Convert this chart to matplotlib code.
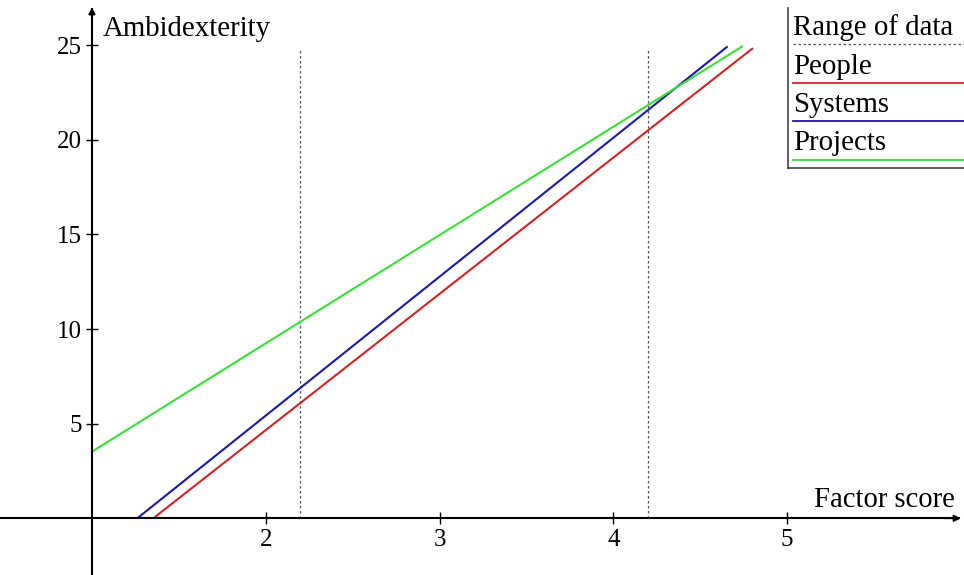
import matplotlib
matplotlib.use('Agg')
import matplotlib.pyplot as plt
from matplotlib.lines import Line2D

plt.rcParams['font.family'] = ['Liberation Serif', 'DejaVu Serif']

# data (line end points)
series_names = ['People', 'Systems', 'Projects']
series_colors = ['#d02424', '#1a1aa6', '#3ade3a']
series_x = [[1.353, 4.804], [1.261, 4.658], [1.0, 4.746]]
series_y = [[0.0, 24.84], [0.0, 24.93], [3.52, 24.95]]

range_x = [2.2, 4.2]
range_low = 0.0
range_high = 24.8

x_ticks = [2, 3, 4, 5]
y_ticks = [5, 10, 15, 20, 25]

fig = plt.figure(figsize=(9.64, 5.75), dpi=100)
ax = fig.add_axes([0, 0, 1, 1])
ax.set_xlim(0.471, 6.018)
ax.set_ylim(-2.995, 27.38)

# dotted range markers
for xr in range_x:
    ax.plot([xr, xr], [range_low, range_high], color='#555555', lw=0.9,
            linestyle=(0, (2, 2)))

for name, col, xs, ys in zip(series_names, series_colors, series_x, series_y):
    ax.plot(xs, ys, color=col, lw=1.5, solid_capstyle='butt')

# axes crossing at (1, 0)
for s in ['top', 'right']:
    ax.spines[s].set_visible(False)
ax.spines['left'].set_position(('data', 1))
ax.spines['bottom'].set_position(('data', 0))
ax.spines['left'].set_bounds(-2.995, 26.9)
ax.spines['bottom'].set_bounds(0.471, 5.99)
for s in ['left', 'bottom']:
    ax.spines[s].set_linewidth(1.5)
ax.annotate('', xy=(6.0, 0), xytext=(5.9, 0),
            arrowprops=dict(arrowstyle='-|>', color='black', lw=1.2,
                            mutation_scale=10, shrinkA=0, shrinkB=0))
ax.annotate('', xy=(1, 27.0), xytext=(1, 26.0),
            arrowprops=dict(arrowstyle='-|>', color='black', lw=1.2,
                            mutation_scale=10, shrinkA=0, shrinkB=0))

ax.set_xticks(x_ticks)
ax.set_yticks(y_ticks)
ax.set_xticklabels([str(t) for t in x_ticks])
ax.set_yticklabels([str(t) for t in y_ticks])
ax.tick_params(direction='inout', length=8, width=1, labelsize=18)
ax.tick_params(axis='x', pad=4)
ax.tick_params(axis='y', pad=3)

fig.text(103 / 964, 1 - 36 / 575, 'Ambidexterity', fontsize=20.8,
         va='baseline', ha='left')
fig.text(955 / 964, 1 - 507 / 575, 'Factor score', fontsize=20.6,
         va='baseline', ha='right')

# legend box, drawn by hand
lx0, lx1 = 788 / 964, 1.0
ly_top, ly_bot = 1 - 8 / 575, 1 - 168 / 575
fig.add_artist(Line2D([lx0, lx0], [ly_bot, ly_top], color='#444444', lw=1.2))
fig.add_artist(Line2D([lx0, lx1], [ly_bot, ly_bot], color='#444444', lw=1.2))

leg_labels = ['Range of data'] + series_names
leg_colors = ['#555555'] + series_colors
leg_styles = [(0, (2, 2)), '-', '-', '-']
for i, (lab, col, ls) in enumerate(zip(leg_labels, leg_colors, leg_styles)):
    base = 35 + 38.5 * i
    fig.text(793 / 964, 1 - base / 575, lab, fontsize=20.8, va='baseline', ha='left')
    fig.add_artist(Line2D([793 / 964, 1.0], [1 - (base + 9) / 575] * 2,
                          color=col, lw=1.3 if ls == '-' else 0.9, linestyle=ls))

fig.savefig('out.png', dpi=100)
